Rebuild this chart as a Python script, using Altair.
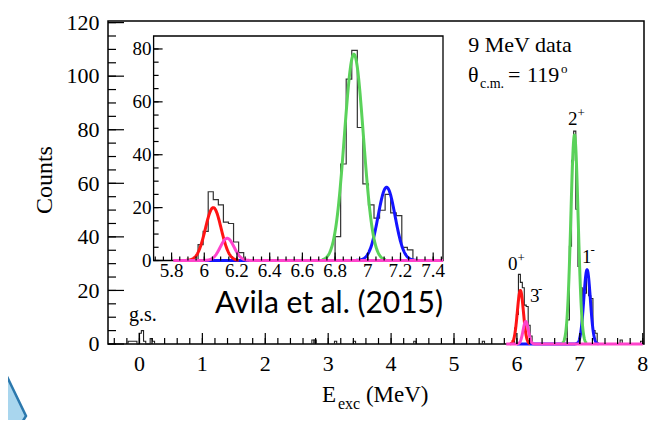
import altair as alt
import numpy as np
import pandas as pd

# ---------------- data ----------------
# histogram clusters: contiguous bin edges (MeV) and counts per bin
gs_edges = [-0.18, -0.145, -0.11, -0.075, -0.04, -0.005, 0.03, 0.065, 0.10, 0.135, 0.17, 0.205, 0.24]
gs_counts = [1, 1, 1, 1, 0, 4, 5, 1, 0, 0, 2, 1]
low_edges = [5.962, 5.993, 6.024, 6.055, 6.086, 6.117, 6.148, 6.179, 6.21, 6.241]
low_counts = [6, 11, 26, 23, 21, 14.5, 14, 7, 3]
high_edges = [6.800, 6.834, 6.868, 6.902, 6.936, 6.970, 7.004, 7.038, 7.072,
              7.106, 7.140, 7.174, 7.208, 7.242, 7.276]
high_counts = [9, 36.5, 68.6, 79.5, 50.3, 29, 21, 16, 19, 25, 18, 17, 5, 4]
blip_starts = [2.74, 2.775, 3.10, 3.40, 4.36, 5.45, 7.64, 7.965]
blip_counts = [1.5, 1.5, 1, 1, 1, 1, 1.5, 1]
blip_width = 0.035

# Gaussian fit components (drawn in this order)
fit_names = ["1-", "2+", "0+", "3-"]
fit_colors = ["#1414ff", "#5ad25a", "#ff1414", "#ff44cc"]
fit_amp = [27.7, 78.0, 20.0, 8.4]
fit_mean = [7.115, 6.915, 6.055, 6.14]
fit_sigma = [0.052, 0.058, 0.048, 0.042]
main_lo = [6.0, 6.72, 5.89, 5.83]
main_hi = [7.30, 7.11, 6.21, 8.0]
inset_lo = [6.0, 6.72, 5.89, 5.81]
inset_hi = [7.30, 7.11, 6.21, 7.46]

# axis tick labels
main_x_labels = [0, 1, 2, 3, 4, 5, 6, 7, 8]
main_y_labels = [0, 20, 40, 60, 80, 100, 120]
inset_x_labels = [5.8, 6.0, 6.2, 6.4, 6.6, 6.8, 7.0, 7.2, 7.4]
inset_x_label_text = ["5.8", "6", "6.2", "6.4", "6.6", "6.8", "7", "7.2", "7.4"]
inset_y_labels = [0, 20, 40, 60, 80]
main_x_minor = [round(-0.4 + 0.2 * i, 2) for i in range(43)]
main_y_minor = [5 * i for i in range(25)]
inset_x_minor = [round(5.7 + 0.05 * i, 2) for i in range(36)]
inset_y_minor = [5 * i for i in range(17)]
y_title = "Counts"
y_title_pos = (-1.39, 61.2)

# annotations (x in MeV, y in counts of the main panel)
ann_text = ["9 MeV data", "\u03b8", "c.m.", "=", "119", "o",
            "2", "+", "0", "+", "3", "-", "1", "-", "g.s.",
            "E", "exc", "(MeV)"]
ann_x = [5.227, 5.223, 5.413, 5.858, 6.16, 6.70,
         6.812, 6.963, 5.858, 6.01, 6.208, 6.335, 7.035, 7.17, -0.166,
         2.902, 3.156, 3.60]
ann_y = [109.1, 97.9, 95.6, 97.9, 97.9, 101.3,
         81.8, 84.8, 27.6, 30.6, 15.7, 19.0, 30.2, 33.6, 8.6,
         -21.7, -24.3, -21.7]
ann_fs = [22, 22, 14, 22, 22, 13,
          19, 13, 19, 13, 19, 13, 19, 13, 20,
          23, 16, 23]
credit_text = ["Avila et al. (2015)"]
credit_x = [1.201]
credit_y = [11.6]

# ---------------- geometry / scales ----------------
W, H = 536, 323
main_x_dom = [-0.5, 8.02]
main_y_dom = [0, 120.6]
inset_x_dom = [5.69, 7.46]
inset_y_dom = [0, 84.9]
inset_x_rng = [45.6, 335]
inset_y_rng = [239.5, 15]

mx = alt.Scale(domain=main_x_dom, nice=False, zero=False)
my = alt.Scale(domain=main_y_dom, nice=False, zero=False)
ix = alt.Scale(domain=inset_x_dom, range=inset_x_rng, nice=False, zero=False)
iy = alt.Scale(domain=inset_y_dom, range=inset_y_rng, nice=False, zero=False)

SERIF = "Liberation Serif"


def hist_df(xmin, xmax):
    clusters = [(gs_edges, gs_counts), (low_edges, low_counts), (high_edges, high_counts)]
    for s, c in zip(blip_starts, blip_counts):
        clusters.append(([s, round(s + blip_width, 3)], [c]))
    rows = []
    for cid, (edges, counts) in enumerate(clusters):
        if edges[0] < xmin or edges[-1] > xmax:
            continue
        pts = [(edges[0], 0)] + list(zip(edges[:-1], counts)) + [(edges[-1], 0)]
        for o, (x, y) in enumerate(pts):
            rows.append({"cid": cid, "o": o, "x": x, "y": y})
    return pd.DataFrame(rows)


def fit_df(k, lo, hi):
    xs = np.arange(lo, hi + 1e-9, 0.002)
    ys = fit_amp[k] * np.exp(-0.5 * ((xs - fit_mean[k]) / fit_sigma[k]) ** 2)
    return pd.DataFrame({"x": xs, "y": ys, "o": np.arange(len(xs))})


def ticks(values, xs, ys, orient, length, xdatum=None, ydatum=None):
    df = pd.DataFrame({"v": values})
    if orient == "vertical":
        m = alt.Chart(df).mark_tick(orient="vertical", size=length, thickness=1.2,
                                    color="black", yOffset=-length / 2, opacity=1)
        return m.encode(x=alt.X("v:Q", scale=xs, axis=None),
                        y=alt.YDatum(ydatum, type="quantitative", scale=ys, axis=None))
    m = alt.Chart(df).mark_tick(orient="horizontal", size=length, thickness=1.2,
                                color="black", xOffset=length / 2, opacity=1)
    return m.encode(y=alt.Y("v:Q", scale=ys, axis=None),
                    x=alt.XDatum(xdatum, type="quantitative", scale=xs, axis=None))


def xlabels(values, texts, xs, ys, ydatum, fs, dy):
    df = pd.DataFrame({"v": values, "t": texts})
    return alt.Chart(df).mark_text(font=SERIF, fontSize=fs, align="center",
                                   baseline="alphabetic", dy=dy, color="black").encode(
        x=alt.X("v:Q", scale=xs, axis=None),
        y=alt.YDatum(ydatum, type="quantitative", scale=ys, axis=None),
        text="t:N")


def ylabels(values, texts, xs, ys, xdatum, fs, dx, dy):
    df = pd.DataFrame({"v": values, "t": texts})
    return alt.Chart(df).mark_text(font=SERIF, fontSize=fs, align="right",
                                   baseline="alphabetic", dx=dx, dy=dy, color="black").encode(
        y=alt.Y("v:Q", scale=ys, axis=None),
        x=alt.XDatum(xdatum, type="quantitative", scale=xs, axis=None),
        text="t:N")


# ---------------- main panel ----------------
MX = dict(scale=mx, axis=None)
MY = dict(scale=my, axis=None)
main_hist = alt.Chart(hist_df(-1, 9)).mark_line(
    interpolate="step-after", color="#222222", strokeWidth=1.1
).encode(x=alt.X("x:Q", **MX), y=alt.Y("y:Q", **MY), detail="cid:N", order="o:Q")
main_fits = [
    alt.Chart(fit_df(k, main_lo[k], main_hi[k])).mark_line(
        color=fit_colors[k], strokeWidth=3
    ).encode(x=alt.X("x:Q", **MX), y=alt.Y("y:Q", **MY), order="o:Q")
    for k in range(len(fit_names))
]
main_ticks = [
    ticks(main_x_minor, mx, my, "vertical", 6, ydatum=main_y_dom[0]),
    ticks(main_x_labels, mx, my, "vertical", 11, ydatum=main_y_dom[0]),
    ticks(main_y_minor, mx, my, "horizontal", 8, xdatum=main_x_dom[0]),
    ticks(main_y_labels, mx, my, "horizontal", 16, xdatum=main_x_dom[0]),
]
main_labels = [
    xlabels(main_x_labels, [str(v) for v in main_x_labels], mx, my, main_y_dom[0], 22, 27),
    ylabels(main_y_labels, [str(v) for v in main_y_labels], mx, my, main_x_dom[0], 22, -8.5, 7.3),
]
ytitle = alt.Chart(pd.DataFrame({"x": [y_title_pos[0]], "y": [y_title_pos[1]], "t": [y_title]})).mark_text(
    font=SERIF, fontSize=24, angle=270, align="center", baseline="alphabetic", color="black"
).encode(x=alt.X("x:Q", **MX), y=alt.Y("y:Q", **MY), text="t:N")

ann_df = pd.DataFrame({"x": ann_x, "y": ann_y, "t": ann_text, "fs": ann_fs})
ann = alt.Chart(ann_df).mark_text(font=SERIF, align="left", baseline="alphabetic",
                                  color="black").encode(
    x=alt.X("x:Q", **MX), y=alt.Y("y:Q", **MY),
    text="t:N", size=alt.Size("fs:Q", scale=None, legend=None),
)
credit = alt.Chart(pd.DataFrame({"x": credit_x, "y": credit_y, "t": credit_text})).mark_text(
    font="Lato", fontSize=30, align="left", baseline="alphabetic", color="black"
).encode(x=alt.X("x:Q", **MX), y=alt.Y("y:Q", **MY), text="t:N")

# slide decoration in the lower-left corner (not data)
deco = alt.Chart(pd.DataFrame({"d": [0]})).mark_point(
    shape="M -0.833 -1.867 L 0.433 0.767 L -0.025 1.5 L -0.833 1.5 Z",
    size=3600, filled=True, fill="#a9d6ee", fillOpacity=1,
    stroke="#2b78ad", strokeWidth=2.5, opacity=1,
).encode(x=alt.value(-95), y=alt.value(372))

main = alt.layer(main_hist, *main_fits, *main_ticks, *main_labels, ytitle, ann, credit, deco)

# ---------------- inset panel ----------------
IX = dict(scale=ix, axis=None)
IY = dict(scale=iy, axis=None)
frame_df = pd.DataFrame({"x0": [inset_x_dom[0]], "x1": [inset_x_dom[1]],
                         "y0": [inset_y_dom[0]], "y1": [inset_y_dom[1]]})
inset_frame = alt.Chart(frame_df).mark_rect(fill="white", stroke="black", strokeWidth=1.3).encode(
    x=alt.X("x0:Q", **IX), x2="x1:Q", y=alt.Y("y0:Q", **IY), y2="y1:Q",
)
inset_hist = alt.Chart(hist_df(inset_x_dom[0], inset_x_dom[1])).mark_line(
    interpolate="step-after", color="#333333", strokeWidth=1.2
).encode(x=alt.X("x:Q", **IX), y=alt.Y("y:Q", **IY), detail="cid:N", order="o:Q")
inset_fits = [
    alt.Chart(fit_df(k, inset_lo[k], inset_hi[k])).mark_line(
        color=fit_colors[k], strokeWidth=3
    ).encode(x=alt.X("x:Q", **IX), y=alt.Y("y:Q", **IY), order="o:Q")
    for k in range(len(fit_names))
]
inset_ticks = [
    ticks(inset_x_minor, ix, iy, "vertical", 4, ydatum=inset_y_dom[0]),
    ticks(inset_x_labels, ix, iy, "vertical", 8, ydatum=inset_y_dom[0]),
    ticks(inset_y_minor, ix, iy, "horizontal", 5, xdatum=inset_x_dom[0]),
    ticks(inset_y_labels, ix, iy, "horizontal", 9, xdatum=inset_x_dom[0]),
]
inset_labels = [
    xlabels(inset_x_labels, inset_x_label_text, ix, iy, inset_y_dom[0], 19, 16.5),
    ylabels(inset_y_labels, [str(v) for v in inset_y_labels], ix, iy, inset_x_dom[0], 19, -2, 6.4),
]
inset = alt.layer(inset_frame, inset_hist, *inset_fits, *inset_ticks, *inset_labels)

chart = alt.layer(main, inset).resolve_scale(
    x="independent", y="independent"
).properties(
    width=W, height=H,
    autosize=alt.AutoSizeParams(type="none"),
    padding={"left": 100, "top": 13, "right": 15, "bottom": 76},
    background="white",
).configure_view(stroke="black", strokeWidth=1.5)

chart.save("out.html", embed_options={"renderer": "svg", "actions": False})
